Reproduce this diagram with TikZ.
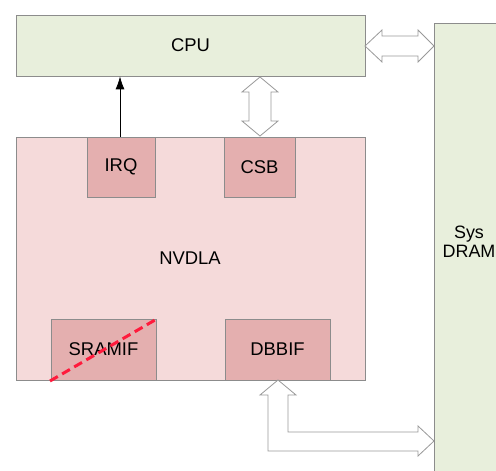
\documentclass[tikz,border=0pt]{standalone}
\usepackage{fontspec}
\setmainfont{Liberation Sans}
\usetikzlibrary{arrows.meta}
\begin{document}
\begin{tikzpicture}[x=1bp,y=-1bp,
  box/.style={draw=black!45, line width=0.8bp, inner sep=0pt, font=\fontsize{18.5}{21}\selectfont},
  greenbox/.style={box, fill=green1},
  nvbox/.style={box, fill=pink1},
  subbox/.style={box, fill=pink2},
  hollow/.style={draw=black!40, line width=0.8bp, fill=white},
  lbl/.style={font=\fontsize{18}{19}\selectfont, inner sep=0pt, align=center}
]
\definecolor{green1}{HTML}{E8EFDC}
\definecolor{pink1}{HTML}{F5DADA}
\definecolor{pink2}{HTML}{E4AFAF}
\definecolor{redline}{HTML}{FF1A3C}
\useasboundingbox (0,0) rectangle (496,471);
\fill[white] (0,0) rectangle (496,471);
% boxes
\node[greenbox, minimum width=349bp, minimum height=61bp] (cpu) at (190.5,45.5) {CPU};
\node[greenbox, minimum width=80bp, minimum height=452bp] (dram) at (474,249) {};
\node[lbl] (dramlbl) at (469,242) {Sys\\DRAM};
\node[nvbox, minimum width=349bp, minimum height=243bp] (nvdla) at (190.5,258.5) {};
\node[lbl, font=\fontsize{18.5}{21}\selectfont] (nvlbl) at (190,258) {NVDLA};
\node[subbox, minimum width=68bp, minimum height=60bp] (irq) at (121,167) {IRQ};
\node[subbox, minimum width=71bp, minimum height=60bp] (csb) at (259.5,167) {CSB};
\node[subbox, minimum width=105bp, minimum height=61bp] (sramif) at (103.5,349.5) {SRAMIF};
\node[subbox, minimum width=105bp, minimum height=61bp] (dbbif) at (277.5,349.5) {DBBIF};
% IRQ arrow
\draw[line width=0.8bp, -{Latex[length=13bp,width=9bp]}] (irq.north -| 120,0) -- (cpu.south -| 120,0);
% CSB <-> CPU hollow double arrow
\draw[hollow] (260,77) -- (278,92) -- (271,92) -- (271,121) -- (278,121) -- (260,136)
  -- (242,121) -- (249,121) -- (249,92) -- (242,92) -- cycle;
% CPU <-> DRAM hollow double arrow
\draw[hollow] (365,46) -- (382,30) -- (382,36) -- (418,36) -- (418,30) -- (434,46)
  -- (418,62) -- (418,56) -- (382,56) -- (382,62) -- cycle;
% DBBIF <-> DRAM L-shaped hollow arrow
\draw[hollow] (278,380) -- (296,395) -- (288,395) -- (288,432) -- (418,432) -- (418,426)
  -- (434,441) -- (418,456) -- (418,451) -- (268,451) -- (268,395) -- (260,395) -- cycle;
% red dashed strike
\coordinate (rs) at (50,381);
\coordinate (re) at (155,320);
\draw[redline, line width=3bp, dash pattern=on 9bp off 5bp] (rs) -- (re);
\end{tikzpicture}
\end{document}
